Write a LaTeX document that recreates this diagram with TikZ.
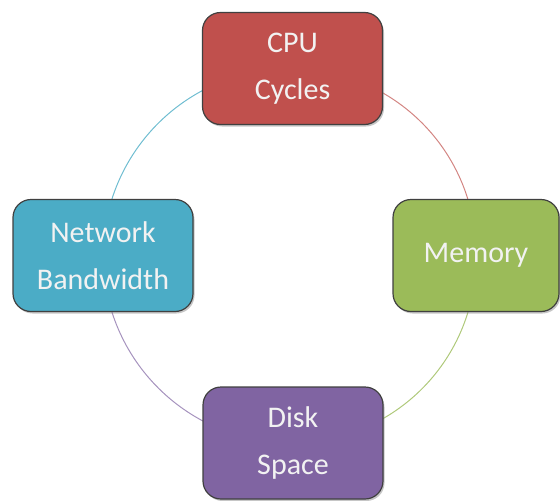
\documentclass[tikz,border=0pt]{standalone}
\usepackage{fontspec}
\setmainfont{Carlito}
\usetikzlibrary{shadows,backgrounds}

\definecolor{cpured}{HTML}{C0504D}
\definecolor{memgreen}{HTML}{9BBB59}
\definecolor{diskpurple}{HTML}{8064A2}
\definecolor{netblue}{HTML}{4BACC6}

\begin{document}
\begin{tikzpicture}[x=1pt,y=-1pt,
    res/.style={draw=black!75,line width=1.2pt,rounded corners=18pt,
        minimum width=180pt,minimum height=112pt,align=center,
        text=white!95!black,font=\fontsize{30}{47}\selectfont,
        drop shadow={shadow xshift=1.5pt,shadow yshift=-2pt,opacity=0.45}},
    ring/.style={line width=1pt}]
    \useasboundingbox (0,0) rectangle (560,501);

    \node[res,fill=cpured]                      (C) at (292.5,68.5) {CPU\\Cycles};
    \node[res,fill=memgreen,minimum width=166pt] (M) at (476,255.5)  {Memory};
    \node[res,fill=diskpurple]                  (D) at (293,443)    {Disk\\Space};
    \node[res,fill=netblue]                     (N) at (103,255.5)  {Network\\Bandwidth};

    \begin{scope}[on background layer]
        \draw [ring,cpured!70]     (C.center) to[bend left=45] (M.center);
        \draw [ring,memgreen!80]   (M.center) to[bend left=45] (D.center);
        \draw [ring,diskpurple!70] (D.center) to[bend left=45] (N.center);
        \draw [ring,netblue!80]    (N.center) to[bend left=45] (C.center);
    \end{scope}
\end{tikzpicture}
\end{document}
